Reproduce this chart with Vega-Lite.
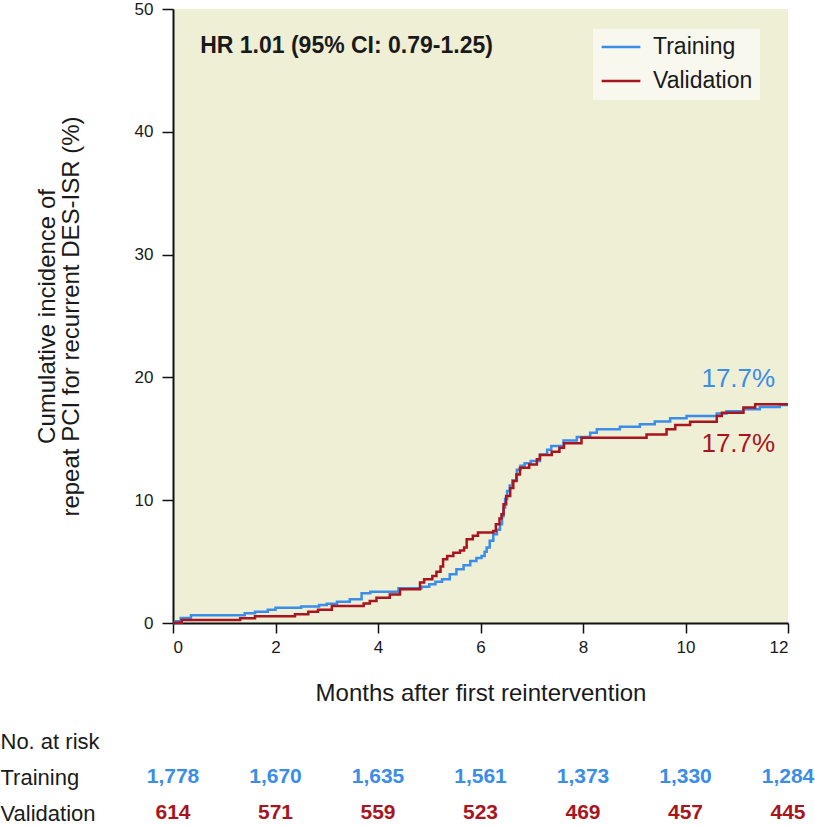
{
  "$schema": "https://vega.github.io/schema/vega-lite/v6.json",
  "padding": {"left": 0, "top": 0, "right": 0, "bottom": 0},
  "bounds": "flush",
  "spacing": 100,
  "config": {
    "font": "Liberation Sans, Arial, sans-serif",
    "view": {"stroke": null}
  },
  "datasets": {
    "curves": [
      {"series": "Training", "month": 0, "pct": 0},
      {"series": "Training", "month": 0.05, "pct": 0.15},
      {"series": "Training", "month": 0.15, "pct": 0.4},
      {"series": "Training", "month": 0.35, "pct": 0.63},
      {"series": "Training", "month": 1.4, "pct": 0.79},
      {"series": "Training", "month": 1.6, "pct": 0.92},
      {"series": "Training", "month": 1.85, "pct": 1.08},
      {"series": "Training", "month": 2.0, "pct": 1.25},
      {"series": "Training", "month": 2.5, "pct": 1.35},
      {"series": "Training", "month": 2.85, "pct": 1.47},
      {"series": "Training", "month": 3.0, "pct": 1.57},
      {"series": "Training", "month": 3.2, "pct": 1.74},
      {"series": "Training", "month": 3.45, "pct": 1.93},
      {"series": "Training", "month": 3.68, "pct": 2.42},
      {"series": "Training", "month": 3.85, "pct": 2.55},
      {"series": "Training", "month": 4.4, "pct": 2.82},
      {"series": "Training", "month": 4.85, "pct": 2.96},
      {"series": "Training", "month": 5.0, "pct": 3.15},
      {"series": "Training", "month": 5.12, "pct": 3.35},
      {"series": "Training", "month": 5.25, "pct": 3.56},
      {"series": "Training", "month": 5.4, "pct": 3.97},
      {"series": "Training", "month": 5.53, "pct": 4.37},
      {"series": "Training", "month": 5.67, "pct": 4.7},
      {"series": "Training", "month": 5.8, "pct": 5.05},
      {"series": "Training", "month": 5.92, "pct": 5.3},
      {"series": "Training", "month": 6.02, "pct": 5.46},
      {"series": "Training", "month": 6.08, "pct": 5.8},
      {"series": "Training", "month": 6.12, "pct": 6.14},
      {"series": "Training", "month": 6.18, "pct": 6.7},
      {"series": "Training", "month": 6.25, "pct": 7.22},
      {"series": "Training", "month": 6.32, "pct": 7.6},
      {"series": "Training", "month": 6.38, "pct": 8.04},
      {"series": "Training", "month": 6.42, "pct": 8.7},
      {"series": "Training", "month": 6.45, "pct": 9.4},
      {"series": "Training", "month": 6.48, "pct": 10.1},
      {"series": "Training", "month": 6.52, "pct": 10.75},
      {"series": "Training", "month": 6.57, "pct": 11.2},
      {"series": "Training", "month": 6.62, "pct": 11.6},
      {"series": "Training", "month": 6.71, "pct": 12.48},
      {"series": "Training", "month": 6.78, "pct": 12.8},
      {"series": "Training", "month": 6.86, "pct": 13.0},
      {"series": "Training", "month": 6.98, "pct": 13.19},
      {"series": "Training", "month": 7.16, "pct": 13.73},
      {"series": "Training", "month": 7.3, "pct": 14.1},
      {"series": "Training", "month": 7.38, "pct": 14.41},
      {"series": "Training", "month": 7.62, "pct": 14.87},
      {"series": "Training", "month": 7.88, "pct": 15.15},
      {"series": "Training", "month": 8.14, "pct": 15.5},
      {"series": "Training", "month": 8.27, "pct": 15.77},
      {"series": "Training", "month": 8.72, "pct": 15.99},
      {"series": "Training", "month": 9.11, "pct": 16.18},
      {"series": "Training", "month": 9.4, "pct": 16.4},
      {"series": "Training", "month": 9.7, "pct": 16.67},
      {"series": "Training", "month": 10.02, "pct": 16.86},
      {"series": "Training", "month": 10.61, "pct": 17.07},
      {"series": "Training", "month": 10.8, "pct": 17.25},
      {"series": "Training", "month": 11.13, "pct": 17.4},
      {"series": "Training", "month": 11.45, "pct": 17.59},
      {"series": "Training", "month": 11.84, "pct": 17.75},
      {"series": "Training", "month": 12.0, "pct": 17.75},
      {"series": "Validation", "month": 0, "pct": 0.03},
      {"series": "Validation", "month": 0.17, "pct": 0.24},
      {"series": "Validation", "month": 1.31, "pct": 0.38},
      {"series": "Validation", "month": 1.6, "pct": 0.55},
      {"series": "Validation", "month": 2.38, "pct": 0.71},
      {"series": "Validation", "month": 2.64, "pct": 0.92},
      {"series": "Validation", "month": 2.83, "pct": 1.08},
      {"series": "Validation", "month": 3.1, "pct": 1.38},
      {"series": "Validation", "month": 3.72, "pct": 1.58},
      {"series": "Validation", "month": 3.84, "pct": 1.79},
      {"series": "Validation", "month": 3.97, "pct": 2.06},
      {"series": "Validation", "month": 4.23, "pct": 2.33},
      {"series": "Validation", "month": 4.43, "pct": 2.74},
      {"series": "Validation", "month": 4.82, "pct": 3.3},
      {"series": "Validation", "month": 4.9, "pct": 3.56},
      {"series": "Validation", "month": 5.06, "pct": 3.83},
      {"series": "Validation", "month": 5.14, "pct": 4.18},
      {"series": "Validation", "month": 5.22, "pct": 4.6},
      {"series": "Validation", "month": 5.27, "pct": 5.2},
      {"series": "Validation", "month": 5.35, "pct": 5.45},
      {"series": "Validation", "month": 5.47, "pct": 5.73},
      {"series": "Validation", "month": 5.6, "pct": 5.9},
      {"series": "Validation", "month": 5.68, "pct": 6.14},
      {"series": "Validation", "month": 5.73, "pct": 6.82},
      {"series": "Validation", "month": 5.85, "pct": 7.1},
      {"series": "Validation", "month": 5.95, "pct": 7.36},
      {"series": "Validation", "month": 6.25, "pct": 7.49},
      {"series": "Validation", "month": 6.3, "pct": 8.04},
      {"series": "Validation", "month": 6.37, "pct": 8.5},
      {"series": "Validation", "month": 6.41, "pct": 8.86},
      {"series": "Validation", "month": 6.45, "pct": 9.67},
      {"series": "Validation", "month": 6.5, "pct": 10.34},
      {"series": "Validation", "month": 6.58, "pct": 11.0},
      {"series": "Validation", "month": 6.64, "pct": 11.56},
      {"series": "Validation", "month": 6.7, "pct": 12.1},
      {"series": "Validation", "month": 6.77, "pct": 12.65},
      {"series": "Validation", "month": 6.95, "pct": 12.9},
      {"series": "Validation", "month": 7.1, "pct": 13.33},
      {"series": "Validation", "month": 7.16, "pct": 13.68},
      {"series": "Validation", "month": 7.39, "pct": 13.95},
      {"series": "Validation", "month": 7.54, "pct": 14.28},
      {"series": "Validation", "month": 7.63, "pct": 14.63},
      {"series": "Validation", "month": 7.97, "pct": 15.09},
      {"series": "Validation", "month": 9.24, "pct": 15.36},
      {"series": "Validation", "month": 9.63, "pct": 15.77},
      {"series": "Validation", "month": 9.8, "pct": 16.12},
      {"series": "Validation", "month": 10.09, "pct": 16.39},
      {"series": "Validation", "month": 10.61, "pct": 16.86},
      {"series": "Validation", "month": 10.71, "pct": 17.13},
      {"series": "Validation", "month": 11.13, "pct": 17.54},
      {"series": "Validation", "month": 11.36, "pct": 17.81},
      {"series": "Validation", "month": 12.0, "pct": 17.81}
    ],
    "risk": [
      {"series": "Training", "month": 0, "n": 1778},
      {"series": "Training", "month": 2, "n": 1670},
      {"series": "Training", "month": 4, "n": 1635},
      {"series": "Training", "month": 6, "n": 1561},
      {"series": "Training", "month": 8, "n": 1373},
      {"series": "Training", "month": 10, "n": 1330},
      {"series": "Training", "month": 12, "n": 1284},
      {"series": "Validation", "month": 0, "n": 614},
      {"series": "Validation", "month": 2, "n": 571},
      {"series": "Validation", "month": 4, "n": 559},
      {"series": "Validation", "month": 6, "n": 523},
      {"series": "Validation", "month": 8, "n": 469},
      {"series": "Validation", "month": 10, "n": 457},
      {"series": "Validation", "month": 12, "n": 445}
    ]
  },
  "vconcat": [
    {
      "width": 615,
      "height": 614,
      "view": {"fill": "#EFEFD6", "stroke": null},
      "layer": [
        {
          "data": {"name": "curves"},
          "mark": {"type": "line", "interpolate": "step-after", "strokeWidth": 2.5},
          "encoding": {
            "x": {
              "field": "month", "type": "quantitative",
              "scale": {"domain": [0, 12], "nice": false},
              "axis": {
                "values": [0, 2, 4, 6, 8, 10, 12],
                "title": "Months after first reintervention",
                "titleFontSize": 24, "titleFontWeight": "normal", "titleColor": "#1a1a1a",
                "titlePadding": 26,
                "labelFontSize": 17, "labelColor": "#1a1a1a", "labelPadding": 6,
                "grid": false, "domainColor": "#111", "domainWidth": 2,
                "tickColor": "#111", "tickWidth": 1.5, "tickSize": 10
              }
            },
            "y": {
              "field": "pct", "type": "quantitative",
              "scale": {"domain": [0, 50], "nice": false},
              "axis": {
                "values": [0, 10, 20, 30, 40, 50],
                "title": ["Cumulative incidence of", "repeat PCI for recurrent DES-ISR (%)"],
                "titleFontSize": 24, "titleFontWeight": "normal", "titleColor": "#1a1a1a",
                "titleX": -114, "titleLineHeight": 24,
                "labelFontSize": 17, "labelColor": "#1a1a1a", "labelPadding": 9,
                "grid": false, "domainColor": "#111", "domainWidth": 2,
                "tickColor": "#111", "tickWidth": 1.5, "tickSize": 11
              }
            },
            "color": {
              "field": "series", "type": "nominal",
              "scale": {"domain": ["Training", "Validation"], "range": ["#3A8DE8", "#A8151E"]},
              "legend": {
                "title": null, "orient": "none", "legendX": 420, "legendY": 20,
                "fillColor": "#F8F8EF", "padding": 7,
                "symbolType": "stroke", "symbolStrokeWidth": 2.5, "symbolSize": 1500,
                "clipHeight": 22, "rowPadding": 11,
                "labelFontSize": 23, "labelColor": "#1a1a1a", "labelOffset": 11
              }
            }
          }
        },
        {
          "data": {"values": [{"t": "HR 1.01 (95% CI: 0.79-1.25)"}]},
          "mark": {"type": "text", "align": "left", "baseline": "middle", "fontWeight": "bold", "fontSize": 23, "color": "#1a1a1a"},
          "encoding": {"x": {"datum": 0.53}, "y": {"datum": 47.0}, "text": {"field": "t"}}
        },
        {
          "data": {"values": [{"t": "17.7%"}]},
          "mark": {"type": "text", "align": "right", "baseline": "middle", "fontSize": 26, "color": "#3A8DE8"},
          "encoding": {"x": {"datum": 11.75}, "y": {"datum": 19.9}, "text": {"field": "t"}}
        },
        {
          "data": {"values": [{"t": "17.7%"}]},
          "mark": {"type": "text", "align": "right", "baseline": "middle", "fontSize": 26, "color": "#A8151E"},
          "encoding": {"x": {"datum": 11.75}, "y": {"datum": 14.6}, "text": {"field": "t"}}
        }
      ]
    },
    {
      "width": 615,
      "height": 108,
      "data": {"name": "risk"},
      "encoding": {
        "x": {"field": "month", "type": "quantitative", "scale": {"domain": [0, 12], "nice": false}, "axis": null},
        "y": {
          "field": "series", "type": "nominal",
          "scale": {"domain": ["No. at risk", "Training", "Validation"]},
          "axis": {
            "title": null, "domain": false, "ticks": false, "grid": false,
            "labelAlign": "left", "labelPadding": 173, "labelFontSize": 22,
            "labelColor": "#1a1a1a"
          }
        },
        "text": {"field": "n", "type": "quantitative", "format": ",d"}
      },
      "layer": [
        {
          "transform": [{"filter": "datum.series == 'Training'"}],
          "mark": {"type": "text", "fontWeight": "bold", "fontSize": 21, "color": "#3A8DE8", "baseline": "middle"}
        },
        {
          "transform": [{"filter": "datum.series == 'Validation'"}],
          "mark": {"type": "text", "fontWeight": "bold", "fontSize": 21, "color": "#A8151E", "baseline": "middle"}
        }
      ]
    }
  ]
}
